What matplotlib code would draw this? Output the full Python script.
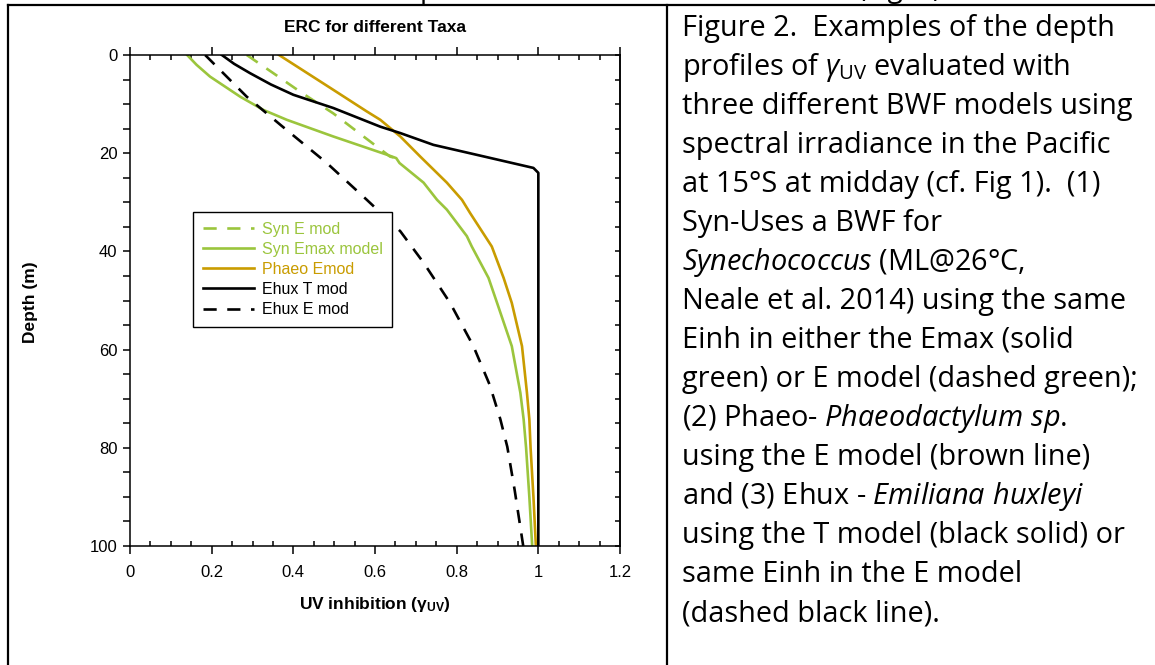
import numpy as np
import matplotlib
matplotlib.use("Agg")
import matplotlib.pyplot as plt
from matplotlib.lines import Line2D
from matplotlib.ticker import MultipleLocator, FormatStrFormatter, FuncFormatter

plt.rcParams['font.family'] = ['Liberation Sans', 'DejaVu Sans']
plt.rcParams['mathtext.fontset'] = 'custom'
plt.rcParams['mathtext.rm'] = 'Open Sans'
plt.rcParams['mathtext.it'] = 'Open Sans:italic'
plt.rcParams['mathtext.bf'] = 'Liberation Sans:bold'

# depth (m) and UV inhibition
syn_e_depth = [0, 3.7, 7.5, 11.9, 16.6, 20.7, 21.0]
syn_e_val = [0.286, 0.351, 0.417, 0.498, 0.572, 0.637, 0.652]

syn_emax_depth = [0, 2, 4.4, 8.5, 11.2, 13.2, 16.6, 20.3, 21.0, 22, 26, 29.5, 31.5,
                  36.9, 39, 45.4, 50.5, 59.3, 68.8, 74.2, 80, 90, 100]
syn_emax_val = [0.14, 0.163, 0.196, 0.27, 0.327, 0.384, 0.498, 0.629, 0.652, 0.66,
                0.719, 0.752, 0.776, 0.825, 0.837, 0.878, 0.899, 0.935, 0.956,
                0.964, 0.970, 0.978, 0.985]

phaeo_depth = [0, 7.1, 11.5, 13.2, 16.6, 20.7, 26, 29.5, 32.2, 39, 45.4, 50.5,
               59.3, 68.7, 74.2, 80, 90, 100]
phaeo_val = [0.365, 0.498, 0.58, 0.613, 0.662, 0.711, 0.776, 0.813, 0.833, 0.886,
             0.915, 0.935, 0.96, 0.972, 0.978, 0.981, 0.988, 0.994]

ehux_t_depth = [0, 1.8, 3.7, 6, 8.1, 10.8, 14.6, 15.9, 18.3, 20.5, 23, 24, 100]
ehux_t_val = [0.225, 0.255, 0.294, 0.345, 0.4, 0.498, 0.613, 0.662, 0.743, 0.858,
              0.988, 1.0, 1.0]

ehux_e_depth = [0, 8.5, 14.2, 22, 29.5, 35.9, 42.3, 50.5, 59.3, 67.2, 74.2, 79.8,
                88.6, 100]
ehux_e_val = [0.184, 0.286, 0.368, 0.482, 0.58, 0.662, 0.719, 0.784, 0.841, 0.881,
              0.907, 0.924, 0.942, 0.963]

green = '#9BC53D'
gold = '#C99C00'

W, H = 1155, 665
fig = plt.figure(figsize=(W / 100, H / 100), dpi=100)

def fx(px):
    return px / W

def fy(py):
    return 1 - py / H

ax = fig.add_axes([fx(130), fy(546), fx(620) - fx(130), fy(55) - fy(546)])

ax.plot(syn_e_val, syn_e_depth, color=green, lw=1.9, dashes=(5, 4), label='Syn E mod')
ax.plot(syn_emax_val, syn_emax_depth, color=green, lw=1.9, label='Syn Emax model')
ax.plot(phaeo_val, phaeo_depth, color=gold, lw=1.9, label='Phaeo Emod')
ax.plot(ehux_t_val, ehux_t_depth, color='black', lw=1.9, label='Ehux T mod')
ax.plot(ehux_e_val, ehux_e_depth, color='black', lw=1.9, dashes=(5, 4), label='Ehux E mod')

ax.set_xlim(0, 1.2)
ax.set_ylim(100, 0)
ax.xaxis.set_major_locator(MultipleLocator(0.2))
ax.xaxis.set_minor_locator(MultipleLocator(0.05))
ax.yaxis.set_major_locator(MultipleLocator(20))
ax.yaxis.set_minor_locator(MultipleLocator(5))
ax.xaxis.set_major_formatter(FuncFormatter(lambda v, p: '%g' % round(v, 2)))
ax.yaxis.set_major_formatter(FormatStrFormatter('%d'))

for s in ax.spines.values():
    s.set_linewidth(1.1)

ax.tick_params(axis='x', which='major', direction='out', length=6, width=1.1,
               top=True, labelsize=12, pad=8)
ax.tick_params(axis='x', which='minor', direction='in', length=3.6, width=1.1, top=True)
ax.tick_params(axis='y', which='both', direction='out', length=5, width=1.1,
               right=False, labelsize=12, pad=4)

# right axis has its ticks pointing inward
rax = ax.secondary_yaxis('right')
rax.yaxis.set_major_locator(MultipleLocator(20))
rax.yaxis.set_minor_locator(MultipleLocator(5))
rax.tick_params(which='both', direction='in', length=3.6, width=1.1, labelright=False)
rax.spines['right'].set_linewidth(1.1)

leg = ax.legend(loc='upper left', bbox_to_anchor=(0.1286, 0.680), borderaxespad=0,
                fontsize=11.5, handlelength=3.2, handletextpad=0.5, labelspacing=0.32,
                borderpad=0.6, fancybox=False, framealpha=1, edgecolor='black')
leg.get_frame().set_linewidth(1.0)
for t, c in zip(leg.get_texts(), [green, green, gold, 'black', 'black']):
    t.set_color(c)

fig.text(fx(375), fy(27), 'ERC for different Taxa', ha='center', va='center',
         fontsize=12.5, fontweight='bold')
fig.text(fx(31), fy(302), 'Depth (m)', ha='center', va='center', rotation=90,
         fontsize=12.5, fontweight='bold')
fig.text(fx(375), fy(604), r'UV inhibition ($\mathbf{\gamma_{UV}}$)', ha='center',
         va='center', fontsize=12.5, fontweight='bold')

# table borders around the figure cell and caption cell
for xs, ys in [([8, W], [5, 5]), ([8, 8], [5, H]), ([667, 667], [5, H])]:
    fig.add_artist(Line2D([fx(v) for v in xs], [fy(v) for v in ys], color='black',
                          lw=1.6, transform=fig.transFigure))

# bottom of the line above the table (cut off)
fig.text(fx(420), fy(-3), 'p', fontsize=20, family='Open Sans', va='baseline')
fig.text(fx(858), fy(-3), '(Fig. 2)', fontsize=20, family='Open Sans', va='baseline')

caption = [
    'Figure 2.  Examples of the depth',
    r'profiles of $\gamma_{\mathrm{UV}}$ evaluated with',
    'three different BWF models using',
    'spectral irradiance in the Pacific',
    'at 15°S at midday (cf. Fig 1).  (1)',
    'Syn-Uses a BWF for',
    r'$\mathit{Synechococcus}$ (ML@26°C,',
    'Neale et al. 2014) using the same',
    'Einh in either the Emax (solid',
    'green) or E model (dashed green);',
    r'(2) Phaeo- $\mathit{Phaeodactylum\ sp.}$',
    'using the E model (brown line)',
    r'and (3) Ehux - $\mathit{Emiliana\ huxleyi}$',
    'using the T model (black solid) or',
    'same Einh in the E model',
    '(dashed black line).',
]
for i, line in enumerate(caption):
    fig.text(fx(682), fy(36 + 39 * i), line, fontsize=20.8, family='Open Sans',
             va='baseline', ha='left')

fig.savefig('out.png', dpi=100)
